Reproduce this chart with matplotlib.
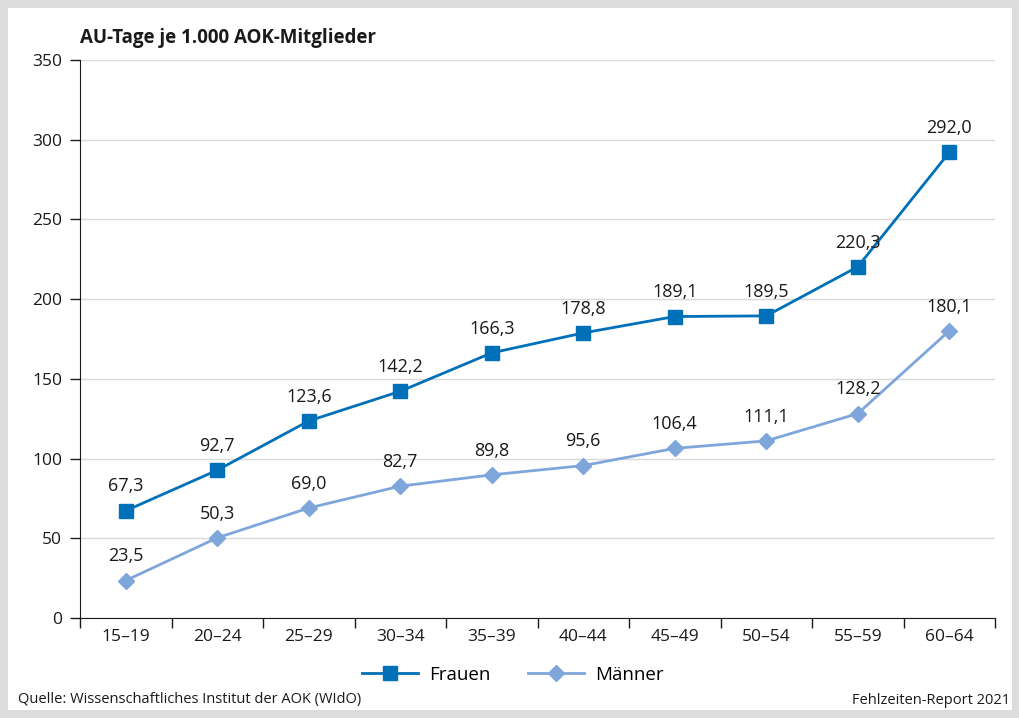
import numpy as np
import matplotlib
matplotlib.use("Agg")
import matplotlib.pyplot as plt
from matplotlib.patches import Rectangle

plt.rcParams['font.family'] = ['Open Sans', 'DejaVu Sans']

ages = ["15–19", "20–24", "25–29", "30–34", "35–39", "40–44", "45–49", "50–54", "55–59", "60–64"]
frauen = [67.3, 92.7, 123.6, 142.2, 166.3, 178.8, 189.1, 189.5, 220.3, 292.0]
maenner = [23.5, 50.3, 69.0, 82.7, 89.8, 95.6, 106.4, 111.1, 128.2, 180.1]
yticks = [0, 50, 100, 150, 200, 250, 300, 350]

c_f = "#0070b8"
c_m = "#7ea6db"
txt = "#1a1a1a"

fig = plt.figure(figsize=(10.2, 7.18), dpi=100)
fig.patch.set_facecolor("#dcdcdc")
fig.patches.append(Rectangle((8/1020, 8/718), 1004/1020, 702/718, transform=fig.transFigure,
                             facecolor="white", edgecolor="none", zorder=-10))

ax = fig.add_axes([80/1020, 100/718, 915/1020, 558/718])
ax.set_facecolor("none")
x = np.arange(len(ages))

ax.plot(x, frauen, color=c_f, lw=2, marker="s", ms=10, label="Frauen", zorder=3)
ax.plot(x, maenner, color=c_m, lw=2, marker="D", ms=8.5, label="Männer", zorder=3)

def fmt(v):
    return f"{v:.1f}".replace(".", ",")

for xi, v in zip(x, frauen):
    ax.annotate(fmt(v), (xi, v), xytext=(0, 11), textcoords="offset points",
                ha="center", va="bottom", fontsize=13, color=txt)
for xi, v in zip(x, maenner):
    ax.annotate(fmt(v), (xi, v), xytext=(0, 11), textcoords="offset points",
                ha="center", va="bottom", fontsize=13, color=txt)

ax.set_xlim(-0.5, len(ages) - 0.5)
ax.set_ylim(0, 350)
ax.set_yticks(yticks)
ax.set_yticklabels([str(t) for t in yticks], fontsize=12.5, color=txt)
ax.set_xticks(x)
ax.set_xticklabels(ages, fontsize=12.5, color=txt)
ax.tick_params(axis="x", length=0, pad=8)
ax.set_xticks(np.arange(-0.5, len(ages)), minor=True)
ax.tick_params(axis="x", which="minor", length=7, width=1, direction="out", color=txt)
ax.tick_params(axis="y", length=7, width=1, direction="out", pad=6, color=txt)

ax.grid(axis="y", color="#d9d9d9", lw=1)
ax.set_axisbelow(True)
for s in ["top", "right"]:
    ax.spines[s].set_visible(False)
ax.spines["left"].set_color(txt)
ax.spines["bottom"].set_color(txt)

fig.text(80/1020, 1 - 38/718, "AU-Tage je 1.000 AOK-Mitglieder", fontsize=13.5, fontweight="bold",
         ha="left", va="center", color=txt)

leg = fig.legend(loc="center", bbox_to_anchor=(513/1020, 1 - 675/718), ncol=2, frameon=False,
                 fontsize=13.5, handlelength=3.0, columnspacing=2.0, handletextpad=0.6)

fig.text(18/1020, 1 - 700/718, "Quelle: Wissenschaftliches Institut der AOK (WIdO)", fontsize=10.5,
         ha="left", va="center", color=txt)
fig.text(1010/1020, 1 - 700/718, "Fehlzeiten-Report 2021", fontsize=10.5,
         ha="right", va="center", color=txt)

fig.savefig("out.png", dpi=100, facecolor=fig.get_facecolor())
